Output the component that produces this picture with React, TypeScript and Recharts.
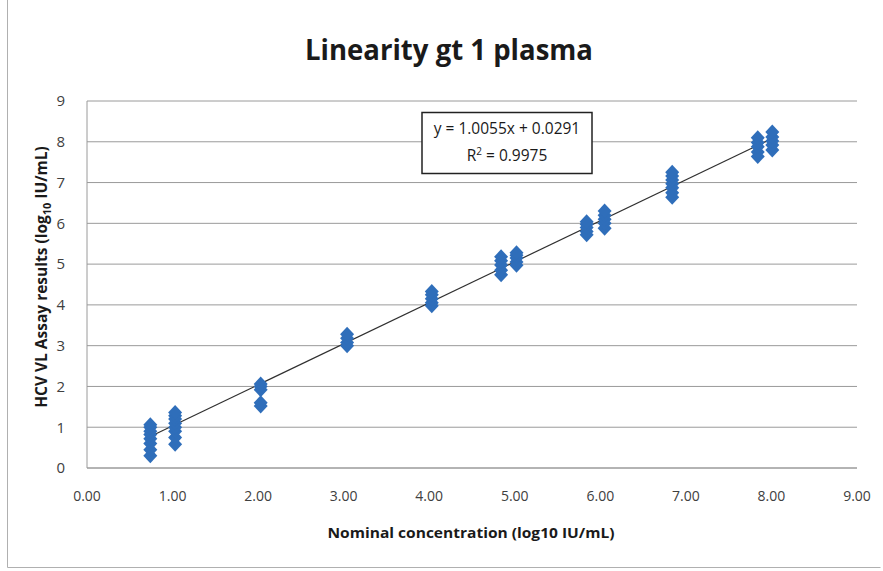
import React from "react";
import {
  ComposedChart,
  Scatter,
  XAxis,
  YAxis,
  CartesianGrid,
  ReferenceLine,
} from "recharts";

// Nominal concentrations (log10 IU/mL) of each replicate group
const nominalX = [0.74, 1.03, 2.03, 3.04, 4.03, 4.84, 5.02, 5.84, 6.05, 6.84, 7.84, 8.01];
// Measured results (log10 IU/mL) for each group
const group074 = [0.3, 0.45, 0.6, 0.72, 0.82, 0.9, 1.0, 1.06];
const group103 = [0.58, 0.75, 0.9, 1.0, 1.1, 1.2, 1.28, 1.36];
const group203 = [1.52, 1.6, 1.92, 2.0, 2.06];
const group304 = [3.0, 3.08, 3.18, 3.28];
const group403 = [3.98, 4.05, 4.15, 4.25, 4.33];
const group484 = [4.74, 4.85, 4.98, 5.08, 5.18];
const group502 = [4.97, 5.05, 5.15, 5.22, 5.28];
const group584 = [5.72, 5.8, 5.9, 5.98, 6.04];
const group605 = [5.88, 6.0, 6.1, 6.2, 6.3];
const group684 = [6.64, 6.75, 6.87, 6.97, 7.06, 7.16, 7.25];
const group784 = [7.64, 7.75, 7.88, 7.98, 8.1];
const group801 = [7.8, 7.92, 8.02, 8.12, 8.24];
const measured = [
  group074, group103, group203, group304, group403, group484,
  group502, group584, group605, group684, group784, group801,
];

const xTicks = [0, 1, 2, 3, 4, 5, 6, 7, 8, 9];
const yTicks = [0, 1, 2, 3, 4, 5, 6, 7, 8, 9];

// Linear fit shown on the chart
const slope = 1.0055;
const intercept = 0.0291;
const trendX = [0.74, 8.01];

const points = nominalX.flatMap((x, i) => measured[i].map((y) => ({ x, y })));
const trendSegment = trendX.map((x) => ({ x, y: slope * x + intercept }));

const BLUE = "#2f6eba";
const GRID = "#9a9a9a";
const FONT = "'Open Sans', 'Noto Sans', sans-serif";

const Diamond = (p: any) => {
  const { cx, cy } = p;
  if (cx == null || cy == null) return null;
  const h = 7.5;
  const w = 7;
  return (
    <polygon
      points={`${cx},${cy - h} ${cx + w},${cy} ${cx},${cy + h} ${cx - w},${cy}`}
      fill={BLUE}
    />
  );
};

export default function App() {
  return (
    <div style={{ position: "absolute", left: 0, top: 0, width: 883, height: 571, background: "#fff" }}>
      <ComposedChart
        width={883}
        height={571}
        data={points}
        margin={{ top: 101, right: 26, bottom: 0, left: 0 }}
      >
        <CartesianGrid horizontal vertical={false} stroke={GRID} strokeWidth={1} />
        <XAxis
          type="number"
          dataKey="x"
          domain={[0, 9]}
          ticks={xTicks}
          tickFormatter={(v: number) => v.toFixed(2)}
          height={103}
          axisLine={{ stroke: GRID }}
          tickLine={false}
          tickMargin={17}
          tick={{ fill: "#404040", fontSize: 14, fontFamily: FONT }}
          interval={0}
        />
        <YAxis
          type="number"
          dataKey="y"
          domain={[0, 9]}
          ticks={yTicks}
          width={87}
          axisLine={{ stroke: GRID }}
          tickLine={false}
          tickMargin={16}
          tick={{ fill: "#404040", fontSize: 15, fontFamily: FONT }}
          interval={0}
        />
        <Scatter data={points} dataKey="y" shape={Diamond} isAnimationActive={false} />
        <ReferenceLine
          segment={trendSegment}
          stroke="#303030"
          strokeWidth={1.2}
          ifOverflow="visible"
        />
      </ComposedChart>
      <svg
        width={883}
        height={571}
        style={{ position: "absolute", left: 0, top: 0, pointerEvents: "none" }}
      >
        <line x1={7.5} y1={0} x2={7.5} y2={567.5} stroke="#b0b0b0" />
        <line x1={7.5} y1={567.5} x2={880.5} y2={567.5} stroke="#b0b0b0" />
        <text
          x={449}
          y={60}
          textAnchor="middle"
          fontFamily={FONT}
          fontWeight="bold"
          fontSize={29}
          fill="#1a1a1a"
          textLength={288}
          lengthAdjust="spacingAndGlyphs"
        >
          Linearity gt 1 plasma
        </text>
        <text
          transform="translate(47,277) rotate(-90)"
          textAnchor="middle"
          fontFamily={FONT}
          fontWeight="bold"
          fontSize={15.5}
          fill="#1a1a1a"
        >
          HCV VL Assay results (log
          <tspan fontSize={11} dy={4}>10</tspan>
          <tspan dy={-4}> IU/mL)</tspan>
        </text>
        <text
          x={471}
          y={538}
          textAnchor="middle"
          fontFamily={FONT}
          fontWeight="bold"
          fontSize={14.5}
          fill="#1a1a1a"
          textLength={287}
          lengthAdjust="spacingAndGlyphs"
        >
          Nominal concentration  (log10 IU/mL)
        </text>
        <rect x={422} y={112.5} width={170} height={61} fill="#fff" stroke="#222" strokeWidth={1.5} />
        <text x={507} y={134} textAnchor="middle" fontFamily={FONT} fontSize={15.5} fill="#1a1a1a">
          y = 1.0055x + 0.0291
        </text>
        <text x={507} y={161} textAnchor="middle" fontFamily={FONT} fontSize={15.5} fill="#1a1a1a">
          R<tspan fontSize={10} dy={-6}>2</tspan>
          <tspan dy={6}> = 0.9975</tspan>
        </text>
      </svg>
    </div>
  );
}
